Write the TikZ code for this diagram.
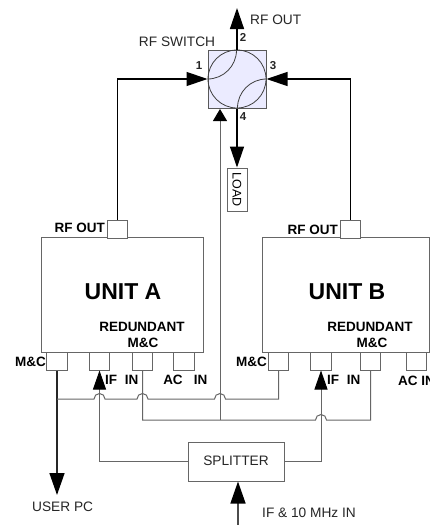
\documentclass[tikz,border=0pt]{standalone}
\usepackage{fontspec}
\setmainfont{Liberation Sans}
\usetikzlibrary{arrows.meta}
\newcommand{\hopArc}{arc[start angle=180,end angle=0,radius=5.5pt]}

\begin{document}
\begin{tikzpicture}
[x=1pt,y=-1pt,
  unitBox/.style={draw=black!60,line width=1pt,fill=white,inner sep=0pt,
    minimum width=#1,minimum height=115pt},
  portBox/.style={draw=black!60,line width=1pt,fill=white,inner sep=0pt,
    minimum width=20.5pt,minimum height=18pt},
  plainBox/.style={draw=black!60,line width=1pt,fill=white,inner sep=0pt},
  lineThin/.style={draw=black!60,line width=1pt},
  lineRF/.style={draw=black,line width=1.2pt},
  lineBold/.style={draw=black!85,line width=1.5pt},
  tipBig/.style={-{Triangle[length=21pt,width=14pt,color=black]}},
  tipLong/.style={-{Triangle[length=22pt,width=15pt,color=black]}},
  tipShort/.style={-{Triangle[length=12pt,width=14pt,color=black]}},
  tipIF/.style={-{Triangle[length=19pt,width=13pt,color=black]}},
  labelPlain/.style={font=\fontsize{13.7}{16}\selectfont,text=black!85,inner sep=0pt},
  labelBold/.style={font=\fontsize{13.5}{16}\selectfont\bfseries,inner sep=0pt},
  labelNum/.style={font=\fontsize{11.5}{13}\selectfont\bfseries,text=black!85,inner sep=0pt}]
\clip (0,0) rectangle (430,525);
\fill[white] (0,0) rectangle (430,525);

% units
\node[unitBox=162pt] (unitA) at (122,295) {};
\node[unitBox=167pt] (unitB) at (345.5,295) {};
\node[font=\fontsize{23}{27}\selectfont\bfseries,inner sep=0pt] (unitAText) at (123,292) {UNIT A};
\node[font=\fontsize{23}{27}\selectfont\bfseries,inner sep=0pt] (unitBText) at (347,292) {UNIT B};

% ports
\foreach \portName/\xPos/\yPos in {
  rfA/117.5/229, mcA/57/361, ifA/99.5/361, inA/142.5/361, acA/184/361,
  rfB/350.5/229, mcB/278.5/361, ifB/321/361, inB/370.5/361, acB/416.5/361}
{
  \node[portBox] (\portName) at (\xPos,\yPos) {};
}

% switch
\node[draw=black!65,line width=1pt,fill=blue!8,minimum size=58pt,inner sep=0pt] (switch) at (237,79) {};
\draw[black!75,line width=0.8pt] (switch) circle[radius=29pt];
\draw[black!75,line width=0.8pt] (switch.west) arc[start angle=270,end angle=360,radius=29pt];
\draw[black!75,line width=0.8pt] (switch.east) arc[start angle=90,end angle=180,radius=29pt];

\node[plainBox,minimum width=20pt,minimum height=43pt] (load) at (237,189.5) {};
\node[labelPlain,font=\fontsize{12.5}{15}\selectfont,rotate=-90,text=black] (loadText) at (237,190) {LOAD};
\node[plainBox,minimum width=96pt,minimum height=39pt] (splitter) at (236,461.5) {};
\node[labelPlain] (splitterText) at (236,461) {SPLITTER};

% free ends
\coordinate (rfOutEnd) at (237,8);
\coordinate (userEnd) at (57,495);
\coordinate (inStart) at (238,525);
\coordinate (midEnd) at (220,109);
\coordinate (busA) at (57,399);
\coordinate (busB) at (142.5,420);
\foreach \hopName/\xPos/\yPos in {hopIfA/99.5/399, hopInA/142.5/399, hopMid/220/399, hopIfB/321/420}
{
  \coordinate (\hopName) at (\xPos,\yPos);
}
\coordinate (midStart) at (220,420);

% RF paths
\draw[lineRF,tipBig] (rfA.north) |- (switch.west);
\draw[lineRF,tipBig] (rfB.north) |- (switch.east);
\draw[lineRF,line width=1.4pt,tipBig] (switch.north) -- (rfOutEnd);
\draw[lineRF,line width=1.4pt,tipBig] (switch.south) -- (load.north);

% M&C bus
\draw[lineBold,tipLong] (mcA.south) -- (userEnd);
\draw[lineThin] (busA) -- ([xshift=-5.5pt]hopIfA) \hopArc
  -- ([xshift=-5.5pt]hopInA) \hopArc
  -- ([xshift=-5.5pt]hopMid) \hopArc
  -| (mcB.south);

% redundant bus
\draw[lineThin] (inA.south) -- (busB) -- ([xshift=-5.5pt]hopIfB) \hopArc -| (inB.south);
\draw[lineThin,tipShort] (midStart) -- (midEnd);

% splitter
\draw[lineThin,tipIF] (splitter.west) -| (ifA.south);
\draw[lineThin,tipIF] (splitter.east) -| (ifB.south);
\draw[lineRF,line width=1.4pt,draw=black!70,tipLong] (inStart) -- (splitter.south -| inStart);

% labels
\node[labelPlain] (switchText) at (177,42) {RF SWITCH};
\node[labelPlain,anchor=west] (rfOutText) at (250,20) {RF OUT};
\node[labelNum] (numOne) at (199,66) {1};
\node[labelNum] (numTwo) at (243,37) {2};
\node[labelNum] (numThree) at (273,66) {3};
\node[labelNum] (numFour) at (243,117) {4};
\node[labelBold,anchor=east] (rfAText) at (105,228) {RF OUT};
\node[labelBold,anchor=east] (rfBText) at (338,230) {RF OUT};
\node[labelBold] (redATop) at (142,327) {REDUNDANT};
\node[labelBold] (redABot) at (143,343) {M\&C};
\node[labelBold] (redBTop) at (370,327) {REDUNDANT};
\node[labelBold] (redBBot) at (372,343) {M\&C};
\node[labelBold,anchor=east] (mcAText) at (46,362) {M\&C};
\node[labelBold,anchor=east] (mcBText) at (267,362) {M\&C};
\foreach \textName/\xPos/\textValue in {
  ifAText/111/IF, inAText/131.5/IN, acAText/173/AC, acInAText/200.5/IN,
  ifBText/333/IF, inBText/353.5/IN}
{
  \node[labelBold] (\textName) at (\xPos,380) {\textValue};
}
\node[labelBold,anchor=west] (acBText) at (398,381) {AC\ IN};
\node[labelPlain,anchor=west] (userText) at (32,507) {USER PC};
\node[labelPlain,anchor=west] (inText) at (262,513) {IF \& 10 MHz IN};
\end{tikzpicture}
\end{document}
